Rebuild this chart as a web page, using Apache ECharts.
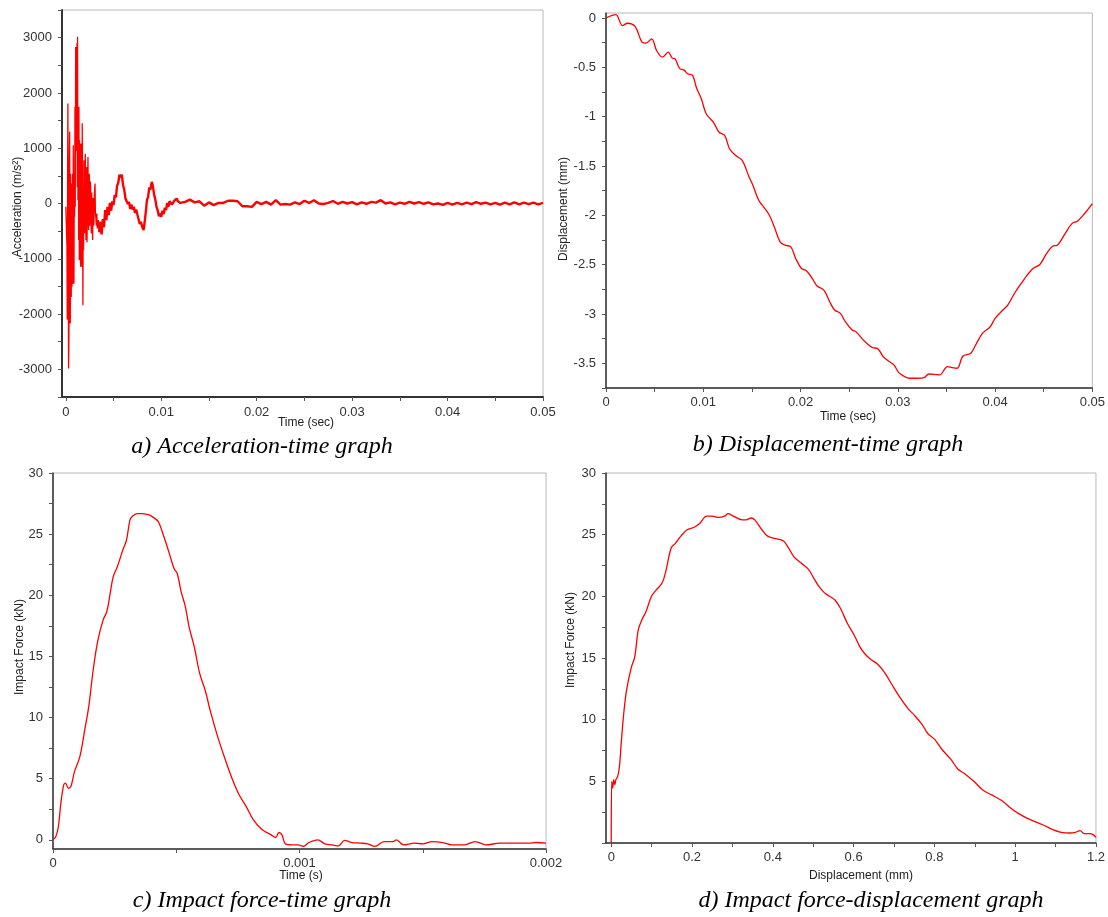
<!DOCTYPE html>
<html><head><meta charset="utf-8">
<script src="https://cdn.jsdelivr.net/npm/echarts@6/dist/echarts.min.js"></script>
<style>html,body{margin:0;padding:0;background:#fff}#c{width:1108px;height:917px}</style>
</head><body><div id="c"></div>
<script>
// ---------- DATA ----------
// a) acceleration (m/s^2) vs time (s): early impact spikes
const accEarly = [
[0,-60],[0.00005,-60],[0.00012,-780],[0.00015,-2100],[0.00019,660],[0.00022,1810],[0.00026,-1750],[0.00029,-2985],
[0.00033,-2350],[0.00036,660],[0.0004,1300],[0.00043,-540],[0.00047,-2170],[0.0005,540],[0.00054,-1330],[0.00057,-1690],
[0.00061,360],[0.00064,-1510],[0.00068,-200],[0.00071,540],[0.00075,-1450],[0.00078,1055],[0.00082,-540],[0.00085,-1450],
[0.00089,540],[0.00092,-240],[0.00096,1750],[0.00099,-60],[0.00103,2830],[0.00106,950],[0.0011,2770],[0.00113,1270],
[0.00117,2900],[0.0012,300],[0.00123,3015],[0.00127,60],[0.0013,1750],[0.00134,-660],[0.00137,1750],[0.00141,-1025],
[0.00144,1145],[0.00148,-540],[0.00151,660],[0.00155,-1145],[0.00158,1085],[0.00162,-420],[0.00165,540],[0.00169,-1150],
[0.00172,1450],[0.00176,-180],[0.00179,-1840],[0.00183,300],[0.00186,-840],[0.0019,780],[0.00194,-300],[0.00197,-540],
[0.00201,500],[0.00204,900],[0.00208,-200],[0.00211,-660],[0.00215,200],[0.00218,660],[0.00222,-700],[0.00225,-300],
[0.00229,300],[0.00232,840],[0.00236,-200],[0.00239,-480],[0.00243,100],[0.00246,540],[0.0025,-400],[0.00253,-180],
[0.00257,400],[0.0026,300],[0.00264,-300],[0.00267,-540],[0.00271,200],[0.00274,180],[0.00278,-500],[0.00281,-660],
[0.00285,100],[0.00288,-60],[0.00292,-400],[0.00295,-300],[0.00299,150],[0.00302,250],[0.00306,360],[0.0031,-150],
[0.00315,-120],[0.0032,-400],[0.00325,-180],[0.0033,-450],[0.0034,-300],[0.0035,-520]
];
// a) acceleration: decaying tail
const accLate = [
[0.0035,-520],[0.00362,-330],[0.00375,-560],[0.00387,-280],[0.004,-430],[0.00412,-120],[0.00425,-300],[0.00437,-60],
[0.0045,-210],[0.00462,10],[0.00475,-130],[0.00487,40],[0.005,-30],[0.00512,150],[0.00525,110],[0.00537,320],
[0.0055,380],[0.00562,520],[0.00575,470],[0.00587,520],[0.006,330],[0.00612,250],[0.00625,90],[0.00637,120],
[0.0065,-10],[0.00662,30],[0.00675,-100],[0.00687,-20],[0.007,-110],[0.00712,-60],[0.00725,-170],[0.00737,-110],
[0.0075,-200],[0.00762,-180],[0.00775,-370],[0.00787,-330],[0.008,-420],[0.00815,-480],[0.0083,-280],[0.0084,-120],
[0.0085,60],[0.00862,120],[0.00875,290],[0.00887,250],[0.009,390],[0.00912,320],[0.00925,160],[0.00937,80],
[0.0095,-60],[0.00962,-120],[0.00975,-230],[0.00987,-180],[0.01,-240],[0.01012,-130],[0.01025,-190],[0.01037,-80],
[0.0105,-120],[0.01062,10],[0.01075,-60],[0.01087,40],[0.011,70],[0.01112,-20],[0.01125,-40],[0.01137,50],
[0.0115,30],[0.01162,90],[0.01175,40],[0.01187,70],[0.012,10],
[0.0125,30],[0.013,70],[0.0135,20],[0.014,40],[0.0145,-40],[0.015,20],[0.0155,-30],[0.016,10],
[0.0165,10],[0.017,50],[0.0175,50],[0.018,40],[0.0185,-50],[0.019,-50],[0.0195,-60],[0.02,30],
[0.0205,-10],[0.021,30],[0.0215,-20],[0.022,60],[0.0225,-20],[0.023,-10],[0.0235,-20],[0.024,20],
[0.0245,-10],[0.025,50],[0.0255,10],[0.026,60],[0.0265,0],[0.027,-10],[0.0275,10],[0.028,45],
[0.0285,-5],[0.029,30],[0.0295,0],[0.03,25],[0.0305,-15],[0.031,20],[0.0315,-5],[0.032,30],
[0.0325,15],[0.033,60],[0.0335,0],[0.034,20],[0.0345,-15],[0.035,15],[0.0355,-5],[0.036,30],
[0.0365,0],[0.037,25],[0.0375,-5],[0.038,20],[0.0385,-15],[0.039,0],[0.0395,-25],[0.04,10],
[0.0405,-20],[0.041,10],[0.0415,-15],[0.042,15],[0.0425,-10],[0.043,25],[0.0435,-5],[0.044,15],
[0.0445,-15],[0.045,10],[0.0455,-20],[0.046,15],[0.0465,-15],[0.047,20],[0.0475,-15],[0.048,15],
[0.0485,-10],[0.049,15],[0.0495,-15],[0.05,10]
];
// b) displacement (mm) vs time (s)
const displacement = [
[0,0],[0.001,0.034],[0.0017,-0.078],[0.0022,-0.054],[0.003,-0.088],[0.0037,-0.246],[0.0041,-0.256],[0.0047,-0.212],
[0.0052,-0.33],[0.0058,-0.398],[0.0064,-0.347],[0.0068,-0.405],[0.0071,-0.415],[0.0076,-0.516],[0.008,-0.526],[0.0084,-0.566],
[0.0089,-0.583],[0.0093,-0.708],[0.0098,-0.819],[0.0103,-0.971],[0.0111,-1.065],[0.0116,-1.156],[0.0122,-1.19],[0.0127,-1.325],
[0.0133,-1.392],[0.014,-1.443],[0.0147,-1.61],[0.0151,-1.696],[0.0157,-1.848],[0.0162,-1.915],[0.0168,-2.0],[0.0173,-2.117],
[0.0179,-2.269],[0.0184,-2.303],[0.019,-2.32],[0.0195,-2.437],[0.0201,-2.539],[0.0206,-2.562],[0.0212,-2.64],[0.0217,-2.717],
[0.0224,-2.758],[0.023,-2.876],[0.0235,-2.96],[0.0241,-2.994],[0.0246,-3.078],[0.0253,-3.162],[0.0257,-3.179],[0.0263,-3.247],
[0.0268,-3.297],[0.0274,-3.341],[0.0279,-3.348],[0.0285,-3.432],[0.029,-3.473],[0.0296,-3.516],[0.0301,-3.594],[0.0307,-3.635],
[0.0312,-3.651],[0.032,-3.651],[0.0327,-3.645],[0.0332,-3.608],[0.0338,-3.611],[0.0343,-3.618],[0.0351,-3.533],[0.0356,-3.544],
[0.0361,-3.55],[0.0367,-3.426],[0.0375,-3.398],[0.038,-3.314],[0.0387,-3.196],[0.0395,-3.129],[0.04,-3.045],[0.0408,-2.96],
[0.0413,-2.91],[0.042,-2.79],[0.0428,-2.674],[0.0433,-2.606],[0.0439,-2.539],[0.0446,-2.498],[0.0453,-2.387],[0.0459,-2.313],
[0.0464,-2.303],[0.0472,-2.185],[0.0479,-2.084],[0.0485,-2.057],[0.0492,-1.982],[0.05,-1.881]
];
// c) impact force (kN) vs time (s)
const forceTime = [
[0,0],[0.0000116,0.27],[0.0000218,1.09],[0.0000319,3.0],[0.0000435,4.49],[0.0000508,4.63],[0.0000624,4.22],[0.0000726,4.36],
[0.0000871,5.58],[0.000109,6.81],[0.000131,9.26],[0.000145,10.89],[0.000163,13.89],[0.000181,16.2],[0.000203,17.97],[0.000218,18.65],
[0.000232,20.15],[0.000244,21.51],[0.000261,22.33],[0.000283,23.69],[0.000298,24.5],[0.000312,26.14],[0.000322,26.46],[0.000341,26.68],
[0.000363,26.68],[0.000392,26.55],[0.000414,26.27],[0.000428,26.0],[0.00045,24.78],[0.000472,23.41],[0.000491,22.19],[0.000504,21.78],
[0.00052,20.28],[0.000537,19.06],[0.000552,17.42],[0.000573,15.79],[0.000595,13.61],[0.000617,12.25],[0.000639,10.48],[0.000668,8.44],
[0.000697,6.67],[0.000726,5.04],[0.000755,3.68],[0.000784,2.72],[0.000813,1.63],[0.000849,0.82],[0.000885,0.41],[0.000903,0.19],
[0.000917,0.6],[0.000929,0.41],[0.000943,-0.33],[0.000972,-0.41],[0.000994,-0.41],[0.001016,-0.54],[0.001038,-0.22],[0.001074,0],
[0.001103,-0.33],[0.001132,-0.41],[0.001158,-0.49],[0.001183,-0.05],[0.001212,-0.22],[0.001248,-0.27],[0.001277,-0.33],[0.001306,-0.54],
[0.001343,-0.14],[0.001379,-0.14],[0.001393,0],[0.001422,-0.41],[0.001466,-0.27],[0.001502,-0.33],[0.001538,-0.14],[0.001582,-0.22],
[0.001618,-0.41],[0.001669,-0.41],[0.001713,-0.14],[0.001756,-0.41],[0.001814,-0.27],[0.001872,-0.27],[0.00193,-0.27],[0.001959,-0.22],
[0.002,-0.27]
];
// d) impact force (kN) vs displacement (mm)
const forceDisp = [
[0,0],[0.001,5.0],[0.0035,4.46],[0.0062,5.14],[0.0088,4.73],[0.0115,5.14],[0.0159,5.4],[0.0203,6.2],
[0.0247,8.1],[0.0309,10.5],[0.0379,12.4],[0.0494,14.2],[0.0582,15.1],[0.067,17.3],[0.0758,18.1],[0.0864,18.8],
[0.0996,20.0],[0.111,20.5],[0.1261,21.1],[0.1349,22.0],[0.1481,23.9],[0.1587,24.3],[0.1728,24.9],[0.1878,25.4],
[0.2055,25.6],[0.2187,25.9],[0.2363,26.5],[0.2496,26.5],[0.2672,26.4],[0.2804,26.5],[0.2892,26.7],[0.3025,26.5],
[0.3245,26.2],[0.3333,26.2],[0.3466,26.35],[0.3554,26.2],[0.373,25.4],[0.3862,24.9],[0.4039,24.7],[0.4259,24.5],
[0.4392,23.9],[0.4524,23.2],[0.47,22.7],[0.4877,22.2],[0.5009,21.5],[0.5141,20.8],[0.5273,20.3],[0.5406,20.0],
[0.5538,19.7],[0.567,19.05],[0.5847,17.8],[0.6023,16.8],[0.6155,15.9],[0.6287,15.3],[0.642,14.9],[0.6596,14.5],
[0.6772,13.8],[0.6993,12.6],[0.7169,11.7],[0.7346,10.9],[0.7522,10.3],[0.7698,9.6],[0.7831,8.9],[0.8007,8.4],
[0.8183,7.6],[0.8404,6.8],[0.858,6.0],[0.8757,5.6],[0.8977,5.0],[0.9198,4.3],[0.9418,3.9],[0.9683,3.4],
[0.9903,2.8],[1.0079,2.4],[1.03,2.0],[1.052,1.7],[1.074,1.4],[1.0917,1.1],[1.1138,0.86],[1.1358,0.81],
[1.149,0.86],[1.1605,1.0],[1.171,0.76],[1.1843,0.76],[1.193,0.68],[1.2,0.46]
];
// tick labels / ticks
const accTimeLabels = [0,0.01,0.02,0.03,0.04,0.05];
const accTimeTicks = [0,0.005,0.01,0.015,0.02,0.025,0.03,0.035,0.04,0.045,0.05];
const dispLabels = [0,-0.5,-1,-1.5,-2,-2.5,-3,-3.5];
const dispTicks = [0,-0.25,-0.5,-0.75,-1,-1.25,-1.5,-1.75,-2,-2.25,-2.5,-2.75,-3,-3.25,-3.5,-3.75];
const forceLabels = [0,5,10,15,20,25,30];
const forceTicks = [0,2.5,5,7.5,10,12.5,15,17.5,20,22.5,25,27.5,30];
const dispXLabels = [0,0.2,0.4,0.6,0.8,1,1.2];
const dispXTicks = [0,0.1,0.2,0.3,0.4,0.5,0.6,0.7,0.8,0.9,1,1.1,1.2];

// ---------- CHART ----------
const FONT = "'Liberation Sans', Arial, sans-serif";
const RED = '#ff0000';
const grids = [
  {left:62, top:10, width:481, height:387},
  {left:606, top:13, width:488, height:375},
  {left:53, top:473, width:493, height:376},
  {left:606, top:473, width:491, height:370}
].map(g => Object.assign({show:true, borderColor:'#b8b8b8', borderWidth:1, backgroundColor:'#fff'}, g));

function axisBase(idx, w) {
  return {
    gridIndex: idx, type:'value',
    axisLine:{show:true, onZero:false, lineStyle:{color:'#333', width:w}},
    axisTick:{show:true, length:4, lineStyle:{color:'#555', width:1}},
    axisLabel:{color:'#333', fontSize:13, fontFamily:FONT},
    splitLine:{show:false}
  };
}
function withCustom(base, labels, ticks, margin) {
  base.axisLabel.customValues = labels;
  base.axisTick.customValues = ticks;
  if (margin !== undefined) base.axisLabel.margin = margin;
  return base;
}

const xa = withCustom(axisBase(0,2), accTimeLabels, accTimeTicks, 9);
xa.min = -0.0004; xa.max = 0.05;
const ya = axisBase(0,2); ya.min=-3500; ya.max=3500; ya.interval=500; ya.axisLabel.margin=10;
ya.axisLabel.formatter = v => (Math.abs(v % 1000) < 1e-9 ? String(v) : '');

const xb = axisBase(1,1.5); xb.min=0; xb.max=0.05; xb.interval=0.005; xb.axisLabel.margin=8;
xb.axisLabel.formatter = v => (Math.abs(v*100 - Math.round(v*100)) < 1e-6 ? String(+v.toFixed(2)) : '');
const yb = withCustom(axisBase(1,1.5), dispLabels, dispTicks, 10); yb.min=-3.75; yb.max=0.05;

const xc = axisBase(2,1.5); xc.min=0; xc.max=0.002; xc.interval=0.0005; xc.axisLabel.margin=8;
xc.axisLabel.formatter = v => (Math.abs(v*1000 - Math.round(v*1000)) < 1e-6 ? String(+v.toFixed(3)) : '');
const yc = withCustom(axisBase(2,1.5), forceLabels, forceTicks, 10); yc.min=-0.75; yc.max=30;

const xd = withCustom(axisBase(3,1.5), dispXLabels, dispXTicks, 8); xd.min=-0.013; xd.max=1.2;
const yd = axisBase(3,1.5); yd.min=0; yd.max=30; yd.interval=2.5; yd.axisLabel.margin=10;
yd.axisLabel.formatter = v => (v !== 0 && Math.abs(v % 5) < 1e-9 ? String(v) : '');

function lineSeries(idx, data, w, smooth) {
  return {type:'line', xAxisIndex:idx, yAxisIndex:idx, data:data, showSymbol:false, symbol:'none',
    smooth: smooth || false,
    lineStyle:{color:RED, width:w}, itemStyle:{color:RED}, animation:false, silent:true, z:3};
}

function txt(x, y, text, size, opts) {
  return Object.assign({type:'text', x:x, y:y, z:10, style:Object.assign({text:text, fill:'#222',
    font: size + 'px ' + FONT, align:'center', verticalAlign:'middle'}, (opts && opts.style) || {})},
    (opts && opts.rotation) ? {rotation: opts.rotation} : {});
}
const CAP = "italic 24px 'Liberation Serif', 'Times New Roman', serif";
function cap(x, y, text) {
  return {type:'text', x:x, y:y, z:10, style:{text:text, fill:'#000', font:CAP, align:'center', verticalAlign:'middle'}};
}
const R = Math.PI/2;

const chart = echarts.init(document.getElementById('c'), null, {renderer:'canvas'});
chart.setOption({
  backgroundColor:'#fff',
  animation:false,
  grid: grids,
  xAxis:[xa, xb, xc, xd],
  yAxis:[ya, yb, yc, yd],
  series:[
    lineSeries(0, accEarly, 1.3),
    lineSeries(0, accLate, 2.4),
    lineSeries(1, displacement, 1.3, 0.35),
    lineSeries(2, forceTime, 1.3, 0.35),
    lineSeries(3, forceDisp, 1.3, 0.35)
  ],
  graphic:[
    txt(18, 207, 'Acceleration (m/s²)', 12, {rotation:R}),
    txt(306, 423, 'Time (sec)', 12),
    cap(262, 447, 'a) Acceleration-time graph'),
    txt(564, 209, 'Displacement (mm)', 12, {rotation:R}),
    txt(848, 417, 'Time (sec)', 12),
    cap(828, 445, 'b) Displacement-time graph'),
    txt(20, 647, 'Impact Force (kN)', 12, {rotation:R}),
    txt(301, 876, 'Time (s)', 12),
    cap(262, 901, 'c) Impact force-time graph'),
    txt(571, 640, 'Impact Force (kN)', 12, {rotation:R}),
    txt(861, 876, 'Displacement (mm)', 12),
    cap(871, 901, 'd) Impact force-displacement graph')
  ]
});
</script>
</body></html>
